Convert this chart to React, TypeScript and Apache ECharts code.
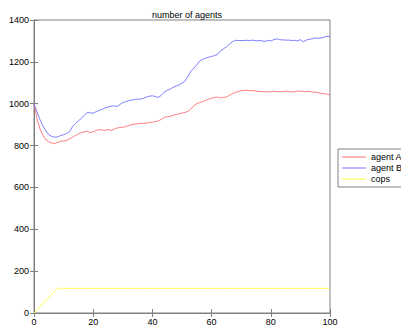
import React, { useEffect, useRef } from "react";
import * as echarts from "echarts";

const steps: number[] = Array.from({ length: 101 }, (_, i) => i);

const agentA: number[] = [
  1000, 930, 880, 850, 828, 818, 812, 810, 815, 820,
  823, 825, 832, 840, 848, 856, 862, 866, 868, 862,
  866, 872, 876, 874, 873, 876, 872, 878, 884, 886,
  888, 890, 896, 900, 902, 904, 906, 906, 908, 910,
  912, 914, 918, 925, 935, 938, 940, 944, 948, 952,
  955, 958, 964, 975, 990, 1000, 1006, 1010, 1016, 1022,
  1026, 1030, 1032, 1028, 1030, 1032, 1040, 1048, 1054, 1058,
  1062, 1064, 1064, 1062, 1063, 1060, 1058, 1058, 1057, 1058,
  1056, 1060, 1058, 1057, 1058, 1060, 1058, 1056, 1058, 1060,
  1060, 1058, 1058, 1060, 1055, 1056, 1052, 1050, 1048, 1045,
  1043,
];

const agentB: number[] = [
  1000, 960, 925, 895, 870, 852, 844, 840, 842, 848,
  852, 858, 866, 890, 906, 918, 930, 945, 958, 956,
  955, 962, 968, 972, 980, 984, 988, 990, 986, 996,
  1005, 1010, 1014, 1018, 1020, 1022, 1022, 1026, 1032, 1036,
  1038, 1034, 1030, 1040, 1055, 1064, 1070, 1078, 1084, 1090,
  1098, 1108, 1130, 1155, 1170, 1185, 1205, 1212, 1218, 1222,
  1226, 1230, 1236, 1252, 1262, 1272, 1284, 1296, 1303, 1302,
  1302, 1302, 1303, 1302, 1304, 1300, 1302, 1300, 1298, 1302,
  1300, 1306, 1310, 1306, 1305, 1304, 1304, 1302, 1303, 1300,
  1306, 1296, 1304, 1308, 1310, 1314, 1312, 1314, 1318, 1322,
  1322,
];

const cops: number[] = [
  0, 15, 30, 45, 60, 75, 90, 105, 118, 118,
  ...Array.from({ length: 91 }, () => 118),
];

const seriesNames = ["agent A", "agent B", "cops"];
const seriesColors = ["#ff7070", "#7070ff", "#ffff40"];

export default function App() {
  const ref = useRef<HTMLDivElement>(null);
  useEffect(() => {
    if (!ref.current) return;
    const chart = echarts.init(ref.current, null, { renderer: "svg" });
    const font = "Liberation Sans, Arial, Helvetica, sans-serif";
    const axisGray = "#808080";
    const mk = (name: string, data: number[], color: string) => ({
      name,
      type: "line" as const,
      data: steps.map((s, i) => [s, data[i]]),
      symbol: "none",
      showSymbol: false,
      lineStyle: { color, width: 0.9 },
      itemStyle: { color },
      z: 3,
    });
    chart.setOption({
      animation: false,
      backgroundColor: "#ffffff",
      title: {
        text: "number of agents",
        left: 182,
        textAlign: "center",
        top: 5,
        textStyle: { fontSize: 9, fontWeight: "normal", color: "#000", fontFamily: font },
      },
      grid: {
        left: 34,
        top: 20,
        right: 71,
        bottom: 19,
        show: true,
        borderColor: axisGray,
        borderWidth: 1,
        backgroundColor: "transparent",
      },
      legend: {
        orient: "vertical",
        left: 338,
        top: 149,
        data: seriesNames,
        icon: "rect",
        itemWidth: 24,
        itemHeight: 1,
        itemGap: 1,
        padding: [3, 4, 3, 4],
        borderColor: axisGray,
        borderWidth: 1,
        borderRadius: 0,
        textStyle: { fontSize: 9, lineHeight: 10, color: "#000", fontFamily: font },
      },
      xAxis: [
        {
          type: "value",
          min: 0,
          max: 100,
          interval: 20,
          axisLine: { show: true, lineStyle: { color: axisGray } },
          axisTick: { show: true, inside: true, length: 4, lineStyle: { color: axisGray } },
          axisLabel: { color: "#000", fontSize: 9, fontFamily: font, margin: 4 },
          splitLine: { show: false },
        },
        {
          type: "value",
          position: "top",
          min: 0,
          max: 100,
          interval: 20,
          axisLine: { show: true, lineStyle: { color: axisGray } },
          axisTick: { show: true, inside: true, length: 4, lineStyle: { color: axisGray } },
          axisLabel: { show: false },
          splitLine: { show: false },
        },
      ],
      yAxis: [
        {
          type: "value",
          min: 0,
          max: 1400,
          interval: 200,
          axisLine: { show: true, lineStyle: { color: axisGray } },
          axisTick: { show: true, inside: true, length: 4, lineStyle: { color: axisGray } },
          axisLabel: {
            color: "#000",
            fontSize: 9,
            fontFamily: font,
            margin: 5,
            formatter: (v: number) => String(v),
          },
          splitLine: { show: false },
        },
        {
          type: "value",
          position: "right",
          min: 0,
          max: 1400,
          interval: 200,
          axisLine: { show: true, lineStyle: { color: axisGray } },
          axisTick: { show: true, inside: true, length: 4, lineStyle: { color: axisGray } },
          axisLabel: { show: false },
          splitLine: { show: false },
        },
      ],
      series: [
        mk(seriesNames[0], agentA, seriesColors[0]),
        mk(seriesNames[1], agentB, seriesColors[1]),
        mk(seriesNames[2], cops, seriesColors[2]),
      ],
    });
    return () => chart.dispose();
  }, []);
  return (
    <div
      ref={ref}
      style={{ position: "absolute", left: 0, top: 0, width: 401, height: 332, background: "#fff" }}
    />
  );
}
